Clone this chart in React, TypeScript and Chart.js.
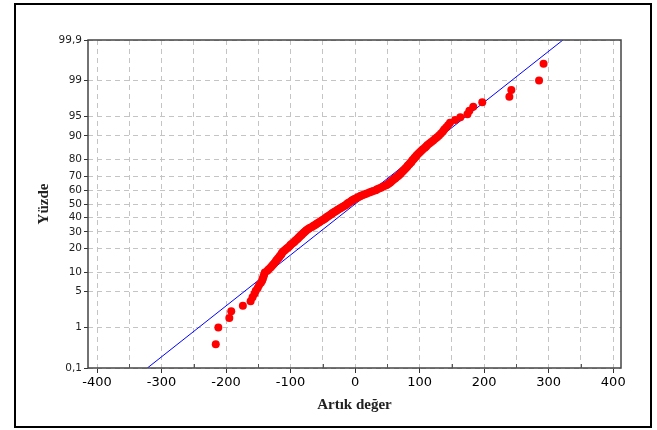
import React, { useEffect, useRef } from 'react';
import { Chart, registerables } from 'chart.js';

Chart.register(...registerables);

// Sorted residuals
const RESIDUALS = [
  -216, -212, -195, -192, -174, -162, -159, -156, -154, -151,
  -149, -146, -144, -143, -142, -141, -140, -136, -134, -131,
  -129, -127, -125, -123, -122, -120, -118, -117, -115, -114,
  -113, -111, -109, -107, -105, -103, -101, -100, -98, -96,
  -94, -93, -91, -89, -88, -86, -85, -83, -82, -80,
  -79, -77, -76, -74, -72, -70, -67, -65, -63, -61,
  -59, -57, -55, -53, -51, -49, -47, -45, -44, -42,
  -40, -38, -36, -35, -33, -31, -29, -27, -25, -23,
  -21, -19, -17, -15, -13, -12, -10, -8, -6, -5,
  -3, -1, 2, 4, 7, 9, 12, 15, 18, 22,
  25, 28, 32, 34, 37, 40, 42, 45, 48, 50,
  52, 54, 55, 57, 58, 60, 62, 63, 65, 67,
  68, 70, 71, 72, 74, 75, 77, 78, 80, 81,
  82, 84, 85, 87, 88, 89, 91, 92, 94, 95,
  97, 99, 101, 103, 105, 108, 110, 112, 115, 118,
  121, 124, 127, 130, 133, 136, 138, 141, 144, 147,
  155, 163, 174, 177, 183, 197, 239, 242, 285, 292,
];

// Fitted normal line endpoints (residual, percent)
const FIT_X = [-322, 322];
const FIT_PCT = [0.1, 99.9];

const Y_TICK_PCTS = [0.1, 1, 5, 10, 20, 30, 40, 50, 60, 70, 80, 90, 95, 99, 99.9];
const Y_TICK_LABELS = ['0,1', '1', '5', '10', '20', '30', '40', '50', '60', '70', '80', '90', '95', '99', '99,9'];
const X_TICKS = [-400, -350, -300, -250, -200, -150, -100, -50, 0, 50, 100, 150, 200, 250, 300, 350, 400];
const X_LABEL_STEP = 100;
const X_MIN = -414;
const X_MAX = 412;

const X_TITLE = 'Artık değer';
const Y_TITLE = 'Yüzde';

function invNorm(p: number): number {
  const a = [-3.969683028665376e1, 2.209460984245205e2, -2.759285104469687e2, 1.38357751867269e2, -3.066479806614716e1, 2.506628277459239];
  const b = [-5.447609879822406e1, 1.615858368580409e2, -1.556989798598866e2, 6.680131188771972e1, -1.328068155288572e1];
  const c = [-7.784894002430293e-3, -3.223964580411365e-1, -2.400758277161838, -2.549671010115316, 4.374664141464968, 2.938163982698783];
  const d = [7.784695709041462e-3, 3.224671290700398e-1, 2.445134137142996, 3.754408661907416];
  const pl = 0.02425;
  const ph = 1 - pl;
  if (p < pl) {
    const q = Math.sqrt(-2 * Math.log(p));
    return (((((c[0] * q + c[1]) * q + c[2]) * q + c[3]) * q + c[4]) * q + c[5]) / ((((d[0] * q + d[1]) * q + d[2]) * q + d[3]) * q + 1);
  }
  if (p <= ph) {
    const q = p - 0.5;
    const r = q * q;
    return ((((((a[0] * r + a[1]) * r + a[2]) * r + a[3]) * r + a[4]) * r + a[5]) * q) / (((((b[0] * r + b[1]) * r + b[2]) * r + b[3]) * r + b[4]) * r + 1);
  }
  const q = Math.sqrt(-2 * Math.log(1 - p));
  return -(((((c[0] * q + c[1]) * q + c[2]) * q + c[3]) * q + c[4]) * q + c[5]) / ((((d[0] * q + d[1]) * q + d[2]) * q + d[3]) * q + 1);
}

const decorPlugin = {
  id: 'decor',
  beforeDraw(chart: any) {
    const { ctx, width, height } = chart;
    ctx.save();
    ctx.fillStyle = '#ffffff';
    ctx.fillRect(0, 0, width, height);
    ctx.restore();
  },
  afterDraw(chart: any) {
    const { ctx, chartArea } = chart;
    const { left, right, top, bottom } = chartArea;
    ctx.save();
    // plot frame
    ctx.strokeStyle = '#444444';
    ctx.lineWidth = 1.5;
    ctx.strokeRect(left, top, right - left, bottom - top);
    // minor inward ticks on x axis
    const xs = chart.scales.x;
    ctx.lineWidth = 1;
    ctx.strokeStyle = '#555555';
    X_TICKS.forEach((v) => {
      if (v % X_LABEL_STEP !== 0) {
        const px = Math.round(xs.getPixelForValue(v)) + 0.5;
        ctx.beginPath();
        ctx.moveTo(px, bottom);
        ctx.lineTo(px, bottom - 4);
        ctx.stroke();
      }
    });
    // outer frame
    ctx.strokeStyle = '#000000';
    ctx.lineWidth = 2;
    ctx.strokeRect(15, 4, 636, 423);
    // axis titles
    ctx.fillStyle = '#222222';
    ctx.font = 'bold 15px "Liberation Serif"';
    ctx.textAlign = 'center';
    ctx.textBaseline = 'middle';
    ctx.fillText(X_TITLE, (left + right) / 2, 405);
    ctx.translate(44, (top + bottom) / 2);
    ctx.rotate(-Math.PI / 2);
    ctx.fillText(Y_TITLE, 0, 0);
    ctx.restore();
  },
};

export default function App() {
  const ref = useRef<HTMLCanvasElement | null>(null);

  useEffect(() => {
    if (!ref.current) return;
    const n = RESIDUALS.length;
    const points = RESIDUALS.map((r, i) => ({ x: r, y: invNorm((i + 1 - 0.3) / (n + 0.4)) }));
    const fit = FIT_X.map((x, i) => ({ x, y: invNorm(FIT_PCT[i] / 100) }));
    const yMin = invNorm(Y_TICK_PCTS[0] / 100);
    const yMax = invNorm(Y_TICK_PCTS[Y_TICK_PCTS.length - 1] / 100);

    const chart = new Chart(ref.current, {
      type: 'scatter',
      data: {
        datasets: [
          {
            data: points,
            backgroundColor: '#ff0000',
            borderWidth: 0,
            pointRadius: 4,
            order: 0,
          },
          {
            data: fit,
            showLine: true,
            borderColor: '#0000ff',
            borderWidth: 1,
            pointRadius: 0,
            order: 1,
          } as any,
        ],
      },
      options: {
        animation: false,
        responsive: false,
        devicePixelRatio: 1,
        layout: { padding: { left: 0, top: 40, right: 36, bottom: 0 } },
        plugins: { legend: { display: false }, tooltip: { enabled: false } },
        scales: {
          x: {
            type: 'linear',
            min: X_MIN,
            max: X_MAX,
            afterBuildTicks: (s: any) => {
              s.ticks = X_TICKS.map((v) => ({ value: v }));
            },
            afterFit: (s: any) => {
              s.height = 430 - 368;
            },
            ticks: {
              autoSkip: false,
              maxRotation: 0,
              padding: 2,
              color: '#000000',
              font: { family: '"DejaVu Sans"', size: 13 },
              callback: (v: any) => (Number(v) % X_LABEL_STEP === 0 ? String(v) : ''),
            },
            grid: {
              color: '#c4c4c4',
              lineWidth: 1,
              tickLength: 5,
              tickColor: (ctx: any) => (ctx.tick && ctx.tick.value % X_LABEL_STEP === 0 ? '#333333' : 'rgba(0,0,0,0)'),
            },
            border: { display: false, dash: [5, 4] },
          },
          y: {
            type: 'linear',
            min: yMin,
            max: yMax,
            afterBuildTicks: (s: any) => {
              s.ticks = Y_TICK_PCTS.map((p) => ({ value: invNorm(p / 100) }));
            },
            afterFit: (s: any) => {
              s.width = 88;
            },
            ticks: {
              autoSkip: false,
              padding: 2,
              color: '#222222',
              font: { family: '"DejaVu Sans"', size: 10.5 },
              callback: (_v: any, i: number) => Y_TICK_LABELS[i],
            },
            grid: {
              color: '#c4c4c4',
              lineWidth: 1,
              tickLength: 4,
              tickColor: '#333333',
            },
            border: { display: false, dash: [5, 4] },
          },
        },
      },
      plugins: [decorPlugin],
    });
    return () => chart.destroy();
  }, []);

  return (
    <div style={{ position: 'fixed', left: 0, top: 0, width: 657, height: 430, background: '#fff' }}>
      <canvas ref={ref} width={657} height={430} style={{ width: 657, height: 430, display: 'block' }} />
    </div>
  );
}
